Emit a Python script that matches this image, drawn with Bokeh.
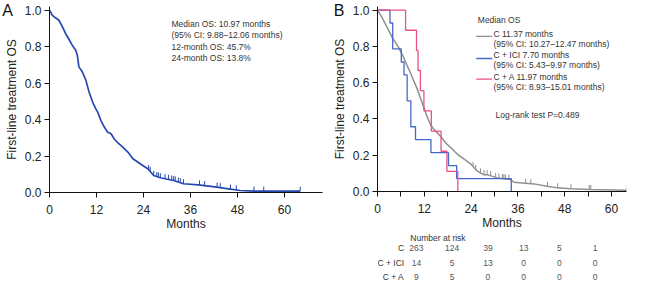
import numpy as np
from bokeh.plotting import figure
from bokeh.models import Range1d, FixedTicker, PrintfTickFormatter, Label
from bokeh.layouts import row, column
from bokeh.embed import file_html
from bokeh.resources import INLINE
from bokeh.core.properties import value

# ---------------- data ----------------
# Panel A: all patients (KM curve read at knots)
a_time = [0, 0.7, 1.5, 2.4, 3.3, 4.1, 5.0, 5.8, 6.7, 7.1, 7.5, 8.4, 9.3, 10.1, 11.0,
          11.8, 12.3, 13.1, 14.0, 14.8, 15.7, 16.5, 17.4, 18.7, 20.0, 21.3, 22.5,
          23.8, 25.1, 26.6, 28.3, 31.7, 34.2, 38.0, 42.7, 45.7, 48.7, 52.0, 64.0]
a_surv = [1.0, 0.973, 0.958, 0.945, 0.908, 0.872, 0.839, 0.808, 0.780, 0.753, 0.689,
          0.661, 0.615, 0.551, 0.496, 0.460, 0.441, 0.396, 0.359, 0.332, 0.322, 0.295,
          0.273, 0.249, 0.222, 0.185, 0.167, 0.148, 0.130, 0.093, 0.081, 0.066, 0.048,
          0.042, 0.029, 0.020, 0.011, 0.007, 0.007]
a_censor = [25.3, 25.7, 26.6, 27.4, 27.8, 28.3, 29.5, 30.4, 31.2, 31.7, 32.1, 32.9,
            33.4, 34.2, 38.3, 39.6, 42.8, 43.6, 46.2, 47.7, 52.2, 54.7, 64.0]

# Panel B: C group
c_time = [0, 1.3, 2.6, 3.9, 5.3, 6.6, 7.5, 8.3, 9.2, 10.1, 11.0, 11.8, 12.7, 13.6,
          14.5, 15.4, 16.2, 17.5, 18.9, 20.6, 22.4, 24.1, 25.6, 27.2, 28.1, 30.7,
          34.1, 35.0, 40.1, 43.5, 46.1, 49.5, 54.6, 64.0]
c_surv = [1.0, 0.954, 0.899, 0.844, 0.799, 0.744, 0.698, 0.661, 0.615, 0.570, 0.515,
          0.469, 0.414, 0.368, 0.341, 0.322, 0.304, 0.267, 0.240, 0.203, 0.176, 0.148,
          0.112, 0.093, 0.093, 0.075, 0.066, 0.051, 0.042, 0.029, 0.020, 0.015, 0.011,
          0.007]
c_censor = [24.5, 25.2, 26.4, 27.3, 28.1, 29.0, 30.3, 31.1, 32.0, 32.4, 32.8, 33.7,
            38.0, 39.3, 43.6, 46.2, 49.6, 54.3, 54.7, 64.0]

# Panel B: C + ICI group (step)
ici_time = [0, 3.2, 3.9, 6.1, 6.8, 7.6, 8.55, 9.75, 13.7, 18.2, 20.3, 34.3]
ici_surv = [1.0, 0.929, 0.786, 0.714, 0.643, 0.500, 0.357, 0.286, 0.214, 0.143, 0.071, 0.0]

# Panel B: C + A group (step)
ca_time = [0, 7.2, 10.0, 10.4, 11.0, 11.9, 13.8, 16.3, 17.8, 20.6]
ca_surv = [1.0, 0.889, 0.778, 0.667, 0.556, 0.444, 0.333, 0.222, 0.111, 0.0]

# Number at risk
risk_months = [0, 12, 24, 36, 48, 60]
risk_groups = ["C", "C + ICI", "C + A"]
risk_c = [263, 124, 39, 13, 5, 1]
risk_ici = [14, 5, 13, 0, 0, 0]
risk_ca = [9, 5, 0, 0, 0, 0]

x_ticks = [0, 12, 24, 36, 48, 60]
x_minor_b = [6, 18, 30, 42, 54, 66]
y_ticks = [0.0, 0.2, 0.4, 0.6, 0.8, 1.0]

text_a = ["Median OS: 10.97 months", "(95% CI: 9.88\u201312.06 months)",
          "12-month OS: 45.7%", "24-month OS: 13.8%"]
legend_head = "Median OS"
legend_b = ["C 11.37 months", "(95% CI: 10.27\u201312.47 months)",
            "C + ICI 7.70 months", "(95% CI: 5.43\u20139.97 months)",
            "C + A 11.97 months", "(95% CI: 8.93\u201315.01 months)"]
logrank = "Log-rank test P=0.489"

# ---------------- styles ----------------
FONT = "Liberation Sans"
COL_A = "#2748b0"
COL_C = "#8f8f8f"
COL_ICI = "#4468c8"
COL_CA = "#e9508a"
TXT = "#333333"

Y_TOP = 1.02
FRAME_TOP = 6
FRAME_BOTTOM = 192
ppu = (FRAME_BOTTOM - FRAME_TOP) / Y_TOP


def style_axes(p, minor=None):
    p.xaxis.ticker = FixedTicker(ticks=x_ticks, minor_ticks=minor or [])
    p.yaxis.ticker = FixedTicker(ticks=y_ticks)
    p.yaxis.formatter = PrintfTickFormatter(format="%.1f")
    for ax in p.axis:
        ax.axis_line_color = "#111111"
        ax.axis_line_width = 1
        ax.major_tick_line_color = "#111111"
        ax.major_tick_in = 0
        ax.major_tick_out = 5
        ax.minor_tick_in = 0
        ax.minor_tick_out = 0
        ax.minor_tick_line_color = None
        ax.major_label_text_font = FONT
        ax.major_label_text_font_size = "12px"
        ax.major_label_text_color = "#222222"
        ax.axis_label_text_font = FONT
        ax.axis_label_text_font_size = "12px"
        ax.axis_label_text_font_style = "normal"
        ax.axis_label_text_color = "#222222"
    p.yaxis.major_label_standoff = 3
    p.xaxis.major_label_standoff = 7
    p.yaxis.axis_label_standoff = 3
    p.xaxis.axis_label_standoff = 0
    if minor:
        p.xaxis.minor_tick_out = 5
        p.xaxis.minor_tick_line_color = "#111111"
    p.xaxis.axis_label = "Months"
    p.yaxis.axis_label = "First-line treatment OS"
    p.xgrid.visible = False
    p.ygrid.visible = False
    p.outline_line_color = None


def yv(py):
    return (FRAME_BOTTOM - py) / ppu


# ---------------- Panel A ----------------
A_W, A_L, A_R = 326, 49, 4
A_XMAX = 69.7
ppm_a = (A_W - A_L - A_R) / A_XMAX
pA = figure(width=A_W, height=281, x_range=Range1d(0, A_XMAX), y_range=Range1d(0, Y_TOP),
            output_backend="svg", toolbar_location=None,
            min_border_left=A_L, min_border_right=A_R, min_border_top=FRAME_TOP,
            min_border_bottom=281 - FRAME_BOTTOM)
style_axes(pA)
pA.line(a_time, a_surv, line_width=1.7, color=COL_A)
a_cs = np.interp(a_censor, a_time, a_surv)
pA.segment(x0=a_censor, y0=a_cs, x1=a_censor, y1=a_cs + 0.025, color=COL_A, line_width=1)


def ax_(px):
    return (px - A_L) / ppm_a


pA.text(x=[ax_(171)] * 4, y=[yv(v) for v in (23.3, 34.0, 46.7, 57.5)], text=text_a,
        text_font=value(FONT), text_font_size="8.5px", text_color=TXT,
        text_baseline="middle", text_align="left")
# panel letter: placed in the (roomy) bottom side panel so it is not clipped to the frame
pA.add_layout(Label(x=ax_(7), y=yv(10), text="A", text_font=FONT, text_font_size="16px",
                    text_color="#111111", text_align="center", text_baseline="middle"),
              "below")

# ---------------- Panel B ----------------
# the "B" letter lives in the right side panel (about 26px wide), so the x axis ends a bit earlier
B_W, B_L, B_R = 326, 51, 26
PPM_B = 3.9
B_XMAX = (B_W - B_L - B_R) / PPM_B
B_H = 232
pB = figure(width=B_W, height=B_H, x_range=Range1d(0, B_XMAX), y_range=Range1d(0, Y_TOP),
            output_backend="svg", toolbar_location=None,
            min_border_left=B_L, min_border_right=B_R, min_border_top=FRAME_TOP,
            min_border_bottom=B_H - FRAME_BOTTOM)
style_axes(pB, minor=x_minor_b)
pB.line(c_time, c_surv, line_width=1.5, color=COL_C)
c_cs = np.interp(c_censor, c_time, c_surv)
pB.segment(x0=c_censor, y0=c_cs, x1=c_censor, y1=c_cs + 0.025, color=COL_C, line_width=1)
pB.step(ici_time, ici_surv, mode="after", line_width=1.3, color=COL_ICI)
pB.step(ca_time, ca_surv, mode="after", line_width=1.3, color=COL_CA)


def bx(px):
    return (px - 326 - B_L) / PPM_B


pB.text(x=[bx(477.3)], y=[yv(20)], text=[legend_head], text_font=value(FONT),
        text_font_size="8.5px", text_color=TXT, text_baseline="middle")
leg_y = [33.3, 43.3, 54.3, 64.5, 76.7, 86.5]
pB.text(x=[bx(493)] * 6, y=[yv(v) for v in leg_y], text=legend_b, text_font=value(FONT),
        text_font_size="8.5px", text_color=TXT, text_baseline="middle")
for yy, col in ((36, COL_C), (58.3, COL_ICI), (79, COL_CA)):
    pB.segment(x0=[bx(475.7)], y0=[yv(yy)], x1=[bx(491.7)], y1=[yv(yy)], color=col,
               line_width=1.3)
pB.text(x=[bx(495)], y=[yv(115)], text=[logrank], text_font=value(FONT),
        text_font_size="8.5px", text_color=TXT, text_baseline="middle")
pB.add_layout(Label(x=bx(338.5), y=yv(10), text="B", text_font=FONT, text_font_size="16px",
                    text_color="#111111", text_align="center", text_baseline="middle"),
              "right")

# ---------------- Number at risk table ----------------
T_H = 281 - B_H
pT = figure(width=B_W, height=T_H,
            x_range=Range1d(-B_L / PPM_B, (B_W - B_L) / PPM_B),
            y_range=Range1d(281, B_H), output_backend="svg", toolbar_location=None,
            x_axis_location=None, y_axis_location=None, min_border=0)
pT.outline_line_color = None
pT.xgrid.visible = False
pT.ygrid.visible = False
row_y = [247.5, 262, 276]
pT.text(x=[bx(369)], y=[237.5], text=["Number at risk"], text_font=value(FONT),
        text_font_size="8.5px", text_color=TXT, text_baseline="middle")
pT.text(x=[bx(361)] * 3, y=row_y, text=risk_groups, text_font=value(FONT),
        text_font_size="8.5px", text_color=TXT, text_baseline="middle", text_align="right")
for yy, vals in zip(row_y, (risk_c, risk_ici, risk_ca)):
    pT.text(x=risk_months, y=[yy] * len(risk_months), text=[str(v) for v in vals],
            text_font=value(FONT), text_font_size="8.5px", text_color="#555555",
            text_baseline="middle", text_align="center")

layout = row(pA, column(pB, pT))
open("out.html", "w").write(file_html(layout, INLINE))
